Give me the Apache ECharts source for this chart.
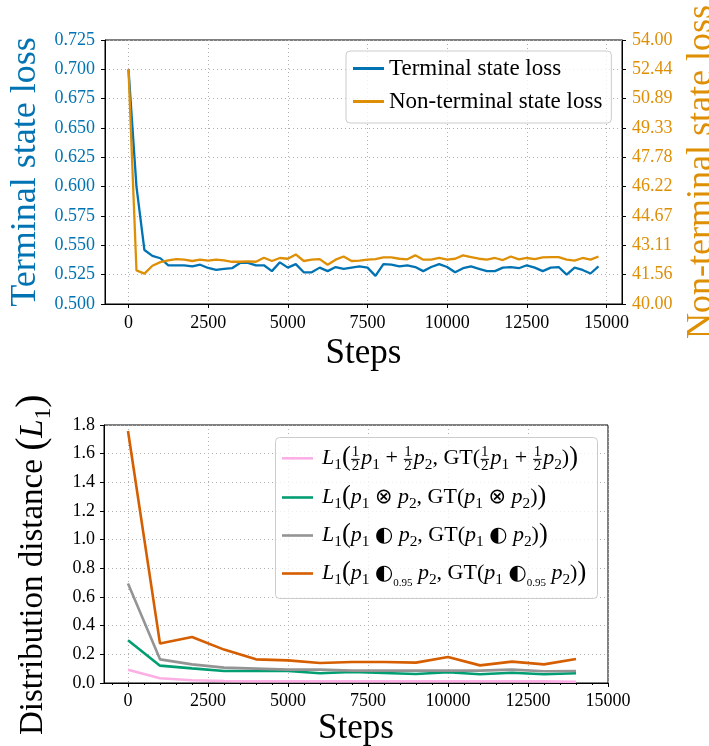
<!DOCTYPE html>
<html>
<head>
<meta charset="utf-8">
<script src="https://cdn.jsdelivr.net/npm/echarts@6/dist/echarts.min.js"></script>
<style>
  html, body { margin: 0; padding: 0; background: #ffffff; }
  #chart { width: 709px; height: 746px; }
</style>
</head>
<body>
<div id="chart"></div>
<script>
// ---------- data: training losses (upper panel) ----------
const stepsTop = [0, 250, 500, 750, 1000, 1250, 1500, 1750, 2000, 2250,
  2500, 2750, 3000, 3250, 3500, 3750, 4000, 4250, 4500, 4750,
  5000, 5250, 5500, 5750, 6000, 6250, 6500, 6750, 7000, 7250,
  7500, 7750, 8000, 8250, 8500, 8750, 9000, 9250, 9500, 9750,
  10000, 10250, 10500, 10750, 11000, 11250, 11500, 11750, 12000, 12250,
  12500, 12750, 13000, 13250, 13500, 13750, 14000, 14250, 14500, 14750];
const terminalLoss = [0.700, 0.600, 0.546, 0.541, 0.539, 0.533, 0.533, 0.533, 0.532, 0.5335,
  0.5307, 0.529, 0.530, 0.5305, 0.535, 0.535, 0.533, 0.533, 0.528, 0.5355,
  0.531, 0.534, 0.527, 0.527, 0.531, 0.528, 0.5315, 0.530, 0.531, 0.532,
  0.531, 0.524, 0.534, 0.5335, 0.532, 0.533, 0.5315, 0.528, 0.5315, 0.534,
  0.5315, 0.527, 0.5305, 0.532, 0.530, 0.528, 0.528, 0.531, 0.5315, 0.5305,
  0.533, 0.531, 0.528, 0.531, 0.5315, 0.525, 0.531, 0.529, 0.526, 0.532];
const nonTerminalLoss = [52.45, 41.78, 41.61, 42.03, 42.22, 42.31, 42.38, 42.35, 42.28, 42.35,
  42.30, 42.35, 42.31, 42.24, 42.24, 42.26, 42.24, 42.45, 42.28, 42.44,
  42.40, 42.63, 42.28, 42.35, 42.38, 42.08, 42.35, 42.52, 42.28, 42.30,
  42.35, 42.38, 42.47, 42.47, 42.40, 42.37, 42.58, 42.35, 42.35, 42.45,
  42.35, 42.40, 42.58, 42.49, 42.40, 42.35, 42.44, 42.33, 42.52, 42.37,
  42.44, 42.38, 42.47, 42.49, 42.49, 42.35, 42.30, 42.44, 42.35, 42.52];

// ---------- data: distribution distances (lower panel) ----------
const stepsBottom = [0, 1000, 2000, 3000, 4000, 5000, 6000, 7000, 8000, 9000,
  10000, 11000, 12000, 13000, 14000];
const distMixture = [0.093, 0.033, 0.019, 0.014, 0.012, 0.012, 0.012, 0.012, 0.012, 0.012,
  0.012, 0.012, 0.012, 0.011, 0.009];
const distProduct = [0.298, 0.121, 0.102, 0.084, 0.084, 0.084, 0.068, 0.077, 0.070, 0.063,
  0.075, 0.061, 0.072, 0.061, 0.068];
const distHalf = [0.694, 0.165, 0.130, 0.107, 0.100, 0.093, 0.093, 0.086, 0.086, 0.086,
  0.086, 0.086, 0.093, 0.082, 0.084];
const distHalf095 = [1.758, 0.275, 0.321, 0.233, 0.165, 0.158, 0.140, 0.147, 0.147, 0.142,
  0.182, 0.123, 0.149, 0.130, 0.168];

// ---------- tick values ----------
const stepTicks = [0, 2500, 5000, 7500, 10000, 12500, 15000];
const stepMinorTicks = [-500, 0, 500, 1000, 1500, 2000, 2500, 3000, 3500, 4000, 4500,
  5000, 5500, 6000, 6500, 7000, 7500, 8000, 8500, 9000, 9500, 10000, 10500,
  11000, 11500, 12000, 12500, 13000, 13500, 14000, 14500, 15000];

const seriesNamesTop = ['Terminal state loss', 'Non-terminal state loss'];

// ---------- styling ----------
const SERIF = '"Liberation Serif", "DejaVu Serif", serif';
const SYM = '"DejaVu Sans", sans-serif';
const C_BLUE = '#0173B2', C_ORANGE = '#DE8F05';
const C_PINK = '#FBAFE4', C_GREEN = '#029E73', C_GRAY = '#949494', C_RED = '#D55E00';
const GRID_LINE = { show: true, lineStyle: { color: '#b0b0b0', width: 1, type: [1, 3] } };

// ---------- small math typesetter for legend entries and axis title ----------
const mctx = document.createElement('canvas').getContext('2d');
function textWidth(t, size, fam, italic) {
  mctx.font = (italic ? 'italic ' : '') + size + 'px ' + fam;
  return mctx.measureText(t).width;
}
const TOK = {
  it:   { k: 1.00, fam: SERIF, italic: true,  dy: 0 },
  rm:   { k: 1.00, fam: SERIF, italic: false, dy: 0 },
  sub:  { k: 0.70, fam: SERIF, italic: false, dy: 0.22 },
  tiny: { k: 0.50, fam: SERIF, italic: false, dy: 0.28 },
  big:  { k: 1.20, fam: SERIF, italic: false, dy: 0.06 },
  sym:  { k: 0.95, fam: SYM,   italic: false, dy: 0 }
};
const FRAC = { frac: true };
function textEl(x, baseline, t, size, fam, italic, color) {
  return {
    type: 'text', x: x, y: baseline - 0.3375 * size, z: 100,
    style: { text: t, fontSize: size, fontFamily: fam, fontStyle: italic ? 'italic' : 'normal',
             fill: color, align: 'left', verticalAlign: 'middle' }
  };
}
function typeset(tokens, x0, base, S, color) {
  const els = [];
  let x = x0;
  tokens.forEach(function (tk) {
    if (tk === FRAC) {
      const fs = 0.68 * S;
      const w = Math.max(textWidth('1', fs, SERIF), textWidth('2', fs, SERIF)) + 2;
      const barY = base - 0.27 * S;
      els.push({ type: 'rect', z: 100, shape: { x: x + 0.5, y: barY - 0.5, width: w - 1, height: 1 },
                 style: { fill: color } });
      const n = textEl(x, barY - 2.5, '1', fs, SERIF, false, color);
      const d = textEl(x, barY + 2 + 0.676 * fs, '2', fs, SERIF, false, color);
      n.x = d.x = x + w / 2; n.style.align = d.style.align = 'center';
      els.push(n, d);
      x += w + 1;
      return;
    }
    const st = TOK[tk[1]];
    const size = st.k * S;
    els.push(textEl(x, base + st.dy * S, tk[0], size, st.fam, st.italic, color));
    x += textWidth(tk[0], size, st.fam, st.italic);
  });
  return els;
}

// legend rows of the lower panel
function opRow(op, sub) {
  const o = sub ? [[op, 'sym'], [sub, 'tiny']] : [[op, 'sym']];
  return [['L', 'it'], ['1', 'sub'], ['(', 'big'], ['p', 'it'], ['1', 'sub'], [' ', 'rm']]
    .concat(o, [[' ', 'rm'], ['p', 'it'], ['2', 'sub'], [', GT(', 'rm'], ['p', 'it'], ['1', 'sub'], [' ', 'rm']],
            o, [[' ', 'rm'], ['p', 'it'], ['2', 'sub'], [')', 'rm'], [')', 'big']]);
}
const legendRows = [
  { color: C_PINK, tokens: [['L', 'it'], ['1', 'sub'], ['(', 'big'], FRAC, ['p', 'it'], ['1', 'sub'], [' + ', 'rm'],
      FRAC, ['p', 'it'], ['2', 'sub'], [', GT(', 'rm'], FRAC, ['p', 'it'], ['1', 'sub'], [' + ', 'rm'],
      FRAC, ['p', 'it'], ['2', 'sub'], [')', 'rm'], [')', 'big']] },
  { color: C_GREEN, tokens: opRow('\u2297') },
  { color: C_GRAY, tokens: opRow('\u25D0') },
  { color: C_RED, tokens: opRow('\u25D0', '0.95') }
];

const graphicEls = [];
// legend frame
graphicEls.push({ type: 'rect', z: 99,
  shape: { x: 275.5, y: 437.5, width: 322, height: 161, r: 4 },
  style: { fill: 'rgba(255,255,255,0.8)', stroke: '#cccccc', lineWidth: 1 } });
const rowCenters = [458.3, 497.5, 535.5, 573.5];
legendRows.forEach(function (row, i) {
  const cy = rowCenters[i];
  graphicEls.push({ type: 'line', z: 100, shape: { x1: 282, y1: cy, x2: 313, y2: cy },
                    style: { stroke: row.color, lineWidth: 2.6 } });
  typeset(row.tokens, 322, cy + 7, 22, '#000').forEach(function (e) { graphicEls.push(e); });
});
// rotated y-axis title of the lower panel
graphicEls.push({ type: 'group', x: 44, y: 735, rotation: Math.PI / 2,
  children: typeset([['Distribution distance ', 'rm'], ['(', 'big'], ['L', 'it'], ['1', 'sub'], [')', 'big']],
                    0, 0, 33, '#000') });

function axisFont(color) { return { fontFamily: SERIF, fontSize: 18, color: color }; }
function plain(v) { return String(v); }
const boxGrid = { show: true, borderColor: '#000', borderWidth: 1, backgroundColor: 'transparent',
                  containLabel: false, outerBoundsMode: 'none' };

const option = {
  animation: false,
  backgroundColor: '#ffffff',
  grid: [
    Object.assign({ left: 105, top: 40, width: 517, height: 264 }, boxGrid),
    Object.assign({ left: 104, top: 425, width: 504, height: 258 }, boxGrid)
  ],
  legend: {
    data: seriesNamesTop,
    orient: 'vertical', left: 346, top: 51,
    icon: 'rect', itemWidth: 31, itemHeight: 3, itemGap: 10, itemTextGap: 10,
    padding: [6, 9, 10, 7],
    backgroundColor: 'rgba(255,255,255,0.8)', borderColor: '#cccccc', borderWidth: 1, borderRadius: 4,
    textStyle: { fontFamily: SERIF, fontSize: 23, color: '#000' }
  },
  xAxis: [
    { gridIndex: 0, type: 'value', min: -737.5, max: 15487.5,
      axisLine: { show: true, onZero: false, lineStyle: { color: '#000' } },
      axisTick: { show: true, length: 4, customValues: stepTicks, lineStyle: { color: '#000' } },
      axisLabel: Object.assign({ customValues: stepTicks, margin: 10, formatter: plain }, axisFont('#000')),
      splitLine: GRID_LINE,
      name: 'Steps', nameLocation: 'middle', nameGap: 32,
      nameTextStyle: { fontFamily: SERIF, fontSize: 35, color: '#000' } },
    { gridIndex: 1, type: 'value', min: -750, max: 15000, position: 'bottom',
      axisLine: { show: true, onZero: false, lineStyle: { color: '#000' } },
      axisTick: { show: true, length: 4, customValues: stepTicks, lineStyle: { color: '#000' } },
      axisLabel: Object.assign({ customValues: stepTicks, margin: 9, formatter: plain }, axisFont('#000')),
      splitLine: GRID_LINE,
      name: 'Steps', nameLocation: 'middle', nameGap: 28,
      nameTextStyle: { fontFamily: SERIF, fontSize: 35, color: '#000' } },
    { gridIndex: 1, type: 'value', min: -750, max: 15000, position: 'bottom',
      axisLine: { show: false },
      axisTick: { show: true, length: 2, customValues: stepMinorTicks, lineStyle: { color: '#000' } },
      axisLabel: { show: false }, splitLine: { show: false } }
  ],
  yAxis: [
    { gridIndex: 0, type: 'value', min: 0.5, max: 0.725, interval: 0.025, position: 'left',
      axisLine: { show: true, onZero: false, lineStyle: { color: '#000' } },
      axisTick: { show: true, length: 4, lineStyle: { color: '#000' } },
      axisLabel: Object.assign({ margin: 10, formatter: function (v) { return v.toFixed(3); } }, axisFont(C_BLUE)),
      splitLine: GRID_LINE,
      name: 'Terminal state loss', nameLocation: 'middle', nameRotate: 90, nameGap: 50,
      nameTextStyle: { fontFamily: SERIF, fontSize: 36, color: C_BLUE } },
    { gridIndex: 0, type: 'value', min: 40, max: 54, interval: 14 / 9, position: 'right',
      axisLine: { show: true, onZero: false, lineStyle: { color: '#000' } },
      axisTick: { show: true, length: 4, lineStyle: { color: '#000' } },
      axisLabel: Object.assign({ margin: 10, formatter: function (v) { return v.toFixed(2); } }, axisFont(C_ORANGE)),
      splitLine: { show: false },
      name: 'Non-terminal state loss', nameLocation: 'middle', nameRotate: 90, nameGap: 47,
      nameTextStyle: { fontFamily: SERIF, fontSize: 36, color: C_ORANGE } },
    { gridIndex: 1, type: 'value', min: 0, max: 1.8, interval: 0.2, position: 'left',
      axisLine: { show: true, onZero: false, lineStyle: { color: '#000' } },
      axisTick: { show: true, length: 4, lineStyle: { color: '#000' } },
      axisLabel: Object.assign({ margin: 9, formatter: function (v) { return v.toFixed(1); } }, axisFont('#000')),
      splitLine: GRID_LINE }
  ],
  series: [
    { name: seriesNamesTop[0], type: 'line', xAxisIndex: 0, yAxisIndex: 0, z: 2,
      data: stepsTop.map(function (s, i) { return [s, terminalLoss[i]]; }),
      symbol: 'none', color: C_BLUE, lineStyle: { width: 2.3, color: C_BLUE } },
    { name: seriesNamesTop[1], type: 'line', xAxisIndex: 0, yAxisIndex: 1, z: 3,
      data: stepsTop.map(function (s, i) { return [s, nonTerminalLoss[i]]; }),
      symbol: 'none', color: C_ORANGE, lineStyle: { width: 2.3, color: C_ORANGE } },
    { name: 'mixture', type: 'line', xAxisIndex: 1, yAxisIndex: 2,
      data: stepsBottom.map(function (s, i) { return [s, distMixture[i]]; }),
      symbol: 'none', color: C_PINK, lineStyle: { width: 2.6, color: C_PINK } },
    { name: 'product', type: 'line', xAxisIndex: 1, yAxisIndex: 2,
      data: stepsBottom.map(function (s, i) { return [s, distProduct[i]]; }),
      symbol: 'none', color: C_GREEN, lineStyle: { width: 2.6, color: C_GREEN } },
    { name: 'half', type: 'line', xAxisIndex: 1, yAxisIndex: 2,
      data: stepsBottom.map(function (s, i) { return [s, distHalf[i]]; }),
      symbol: 'none', color: C_GRAY, lineStyle: { width: 2.6, color: C_GRAY } },
    { name: 'half095', type: 'line', xAxisIndex: 1, yAxisIndex: 2,
      data: stepsBottom.map(function (s, i) { return [s, distHalf095[i]]; }),
      symbol: 'none', color: C_RED, lineStyle: { width: 2.6, color: C_RED } }
  ],
  graphic: { elements: graphicEls }
};

const chart = echarts.init(document.getElementById('chart'), null, { renderer: 'canvas' });
chart.setOption(option);
</script>
</body>
</html>
